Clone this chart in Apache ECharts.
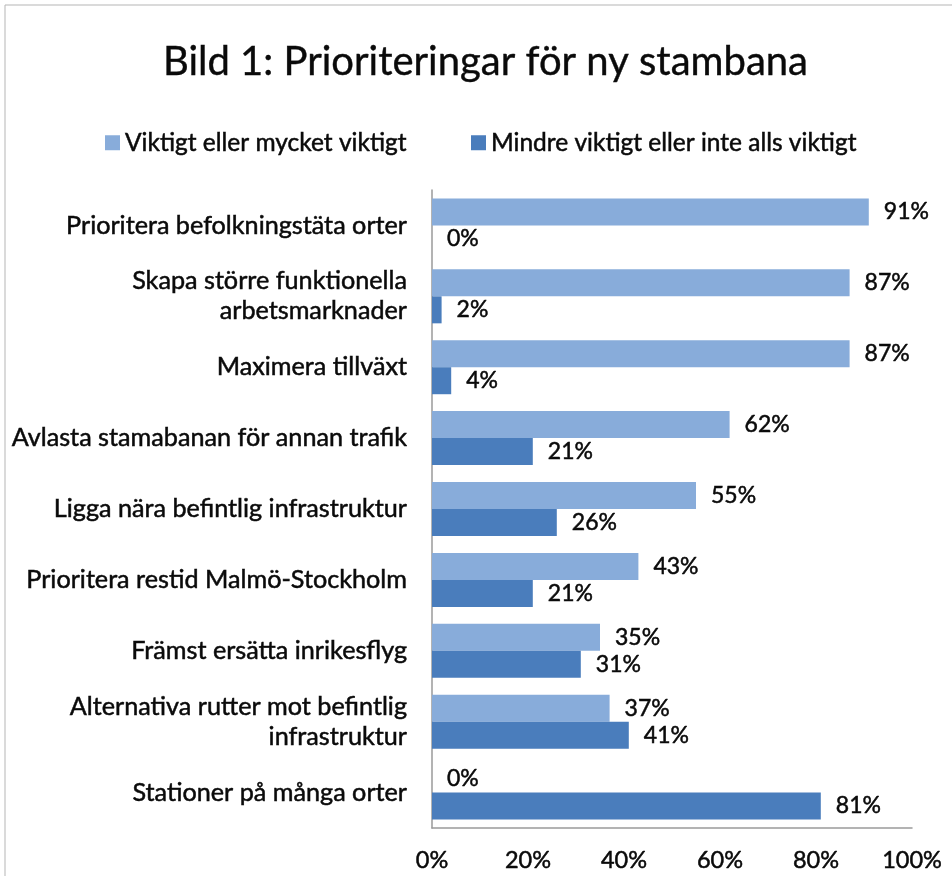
<!DOCTYPE html>
<html>
<head>
<meta charset="utf-8">
<script src="https://cdn.jsdelivr.net/npm/echarts@6/dist/echarts.min.js"></script>
<style>
html,body{margin:0;padding:0;background:#fff;}
#chart{width:952px;height:876px;}
</style>
</head>
<body>
<div id="chart"></div>
<script>
const titleText = 'Bild 1: Prioriteringar för ny stambana';
const categories = [
  'Prioritera befolkningstäta orter',
  'Skapa större funktionella\narbetsmarknader',
  'Maximera tillväxt',
  'Avlasta stamabanan för annan trafik',
  'Ligga nära befintlig infrastruktur',
  'Prioritera restid Malmö-Stockholm',
  'Främst ersätta inrikesflyg',
  'Alternativa rutter mot befintlig\ninfrastruktur',
  'Stationer på många orter'
];
const seriesNames = ['Viktigt eller mycket viktigt', 'Mindre viktigt eller inte alls viktigt'];
const important = [91, 87, 87, 62, 55, 43, 35, 37, 0];
const lessImportant = [0, 2, 4, 21, 26, 21, 31, 41, 81];
const xTicks = [0, 20, 40, 60, 80, 100];

const FONT = 'Lato';
const TXT = '#0a0a0a';
const heavy = {textBorderColor: TXT, textBorderWidth: 0.5};
const chart = echarts.init(document.getElementById('chart'), null, {renderer: 'canvas'});
const lblStyle = Object.assign({show: true, position: 'right', distance: 15, fontFamily: FONT, fontSize: 23, color: TXT,
  formatter: p => p.value + '%'}, heavy);
chart.setOption({
  backgroundColor: '#fff',
  animation: false,
  textStyle: {fontFamily: FONT},
  graphic: [{
    type: 'rect', shape: {x: 5, y: 5, width: 1000, height: 1000},
    style: {fill: 'none', stroke: '#b5b5b5', lineWidth: 1}, silent: true, z: -10
  }],
  title: {
    text: titleText, left: 158, top: 37,
    textStyle: Object.assign({fontFamily: FONT, fontSize: 40, fontWeight: 'normal', color: TXT}, {textBorderColor: TXT, textBorderWidth: 0.4})
  },
  legend: [
    {data: [seriesNames[0]], left: 100, top: 125, itemWidth: 15, itemHeight: 15, icon: 'rect',
     textStyle: Object.assign({fontFamily: FONT, fontSize: 24.5, color: TXT}, heavy)},
    {data: [seriesNames[1]], left: 466, top: 125, itemWidth: 15, itemHeight: 15, icon: 'rect',
     textStyle: Object.assign({fontFamily: FONT, fontSize: 24.5, color: TXT}, heavy)}
  ],
  grid: {left: 432, right: 40, top: 190, bottom: 48},
  xAxis: {
    type: 'value', min: 0, max: 100, interval: 20,
    axisLine: {show: true, lineStyle: {color: '#9a9a9a', width: 1.5}},
    axisTick: {show: false},
    splitLine: {show: false},
    axisLabel: Object.assign({margin: 20, fontFamily: FONT, fontSize: 23.5, color: TXT,
      formatter: v => xTicks.includes(v) ? v + '%' : ''}, heavy)
  },
  yAxis: {
    type: 'category', data: categories, inverse: true,
    axisLine: {show: true, lineStyle: {color: '#9a9a9a', width: 1.5}},
    axisTick: {show: false},
    axisLabel: Object.assign({margin: 25, fontFamily: FONT, fontSize: 25.2, color: TXT, lineHeight: 30, align: 'right'}, heavy)
  },
  series: [
    {name: seriesNames[0], type: 'bar', data: important, barWidth: 27, barGap: '0%',
     itemStyle: {color: '#88acda'}, label: lblStyle},
    {name: seriesNames[1], type: 'bar', data: lessImportant, barWidth: 27, barGap: '0%',
     itemStyle: {color: '#4a7dbc'}, label: lblStyle}
  ]
});
</script>
</body>
</html>
